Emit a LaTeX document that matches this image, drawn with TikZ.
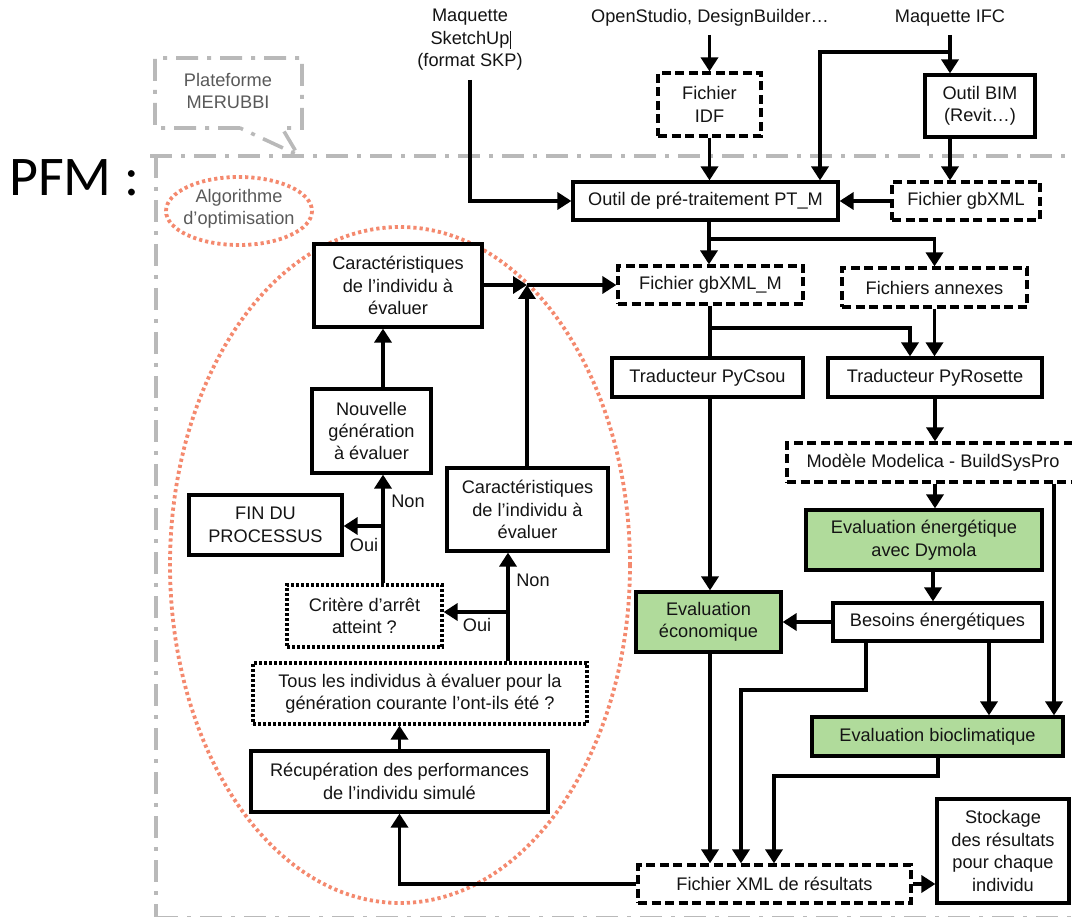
\documentclass[tikz,border=0pt]{standalone}
\usepackage{fontspec}
\setmainfont{Liberation Sans}
\newfontfamily\pfmfont{Carlito}
\usetikzlibrary{arrows.meta}
\definecolor{ink}{RGB}{20,20,20}
\definecolor{note}{RGB}{89,89,89}
\definecolor{frame}{RGB}{185,185,185}
\definecolor{salmon}{RGB}{244,137,110}
\definecolor{evalgreen}{RGB}{176,219,155}

\begin{document}
\begin{tikzpicture}[x=1pt,y=-1pt,
  txt/.style={font=\fontsize{18.2}{22.4}\selectfont, text=ink, align=center, inner sep=0pt},
  sz/.style n args={2}{minimum width=#1pt, minimum height=#2pt},
  box/.style={txt, draw=black, line width=3.2pt, fill=white, rectangle},
  dbox/.style={box, dash pattern=on 9pt off 4.5pt},
  obox/.style={box, line width=3.2pt, dash pattern=on 3pt off 2pt},
  gbox/.style={box, fill=evalgreen},
  link/.style={draw=black, line width=3.4pt, -{Triangle[width=17pt,length=14pt]}},
  wire/.style={draw=black, line width=3.4pt},
  border/.style={draw=frame, line width=3.6pt, dash pattern=on 22pt off 9pt on 4pt off 9pt},
  halo/.style={draw=salmon, line width=3.8pt, dash pattern=on 3.2pt off 3pt},
]
\useasboundingbox (0,0) rectangle (1072,917);
\clip (0,0) rectangle (1072,917);

% platform frame and its callout
\draw[border] (150,156) -- (1072,156);
\draw[border] (156,156) -- (156,917);
\draw[border, line width=1.5pt] (156,917) -- (1072,917);
\draw[border] (240,128) -- (155,128) -- (155,58) -- (302,58) -- (302,128)
  -- (282,128) -- (298,155) -- cycle;
\node[txt, text=note] (merubbi) at (228,91) {Plateforme\\MERUBBI};
\node[font=\pfmfont\fontsize{56}{56}\selectfont, text=black, anchor=base west,
  inner sep=0pt] (pfm) at (9,196) {PFM :};

% optimisation algorithm outline
\draw[halo] (239,211) ellipse [x radius=73, y radius=34];
\node[txt, text=note] (algo) at (239,209) {Algorithme\\d’optimisation};
\draw[halo] (400,565) ellipse [x radius=230, y radius=338];

% inputs
\node[txt] (skp) at (470,40) {Maquette\\SketchUp\\(format SKP)};
\draw[line width=0.8pt, ink] (510,31) -- (510,49);
\node[txt] (os) at (710,18) {OpenStudio, DesignBuilder…};
\node[txt] (ifc) at (950,18) {Maquette IFC};

% boxes
\node[dbox, sz={103}{63}] (idf) at (709.5,104.5) {Fichier\\IDF};
\node[box, sz={110}{62}] (bim) at (980,106) {Outil BIM\\(Revit…)};
\node[dbox, sz={148}{38}] (gbxml) at (966,201) {Fichier gbXML};
\node[box, sz={265}{38}] (ptm) at (705.5,201) {Outil de pré-traitement PT\_M};
\node[dbox, sz={185}{38}] (gbxmlm) at (710.5,285) {Fichier gbXML\_M};
\node[dbox, sz={185}{39}] (annexes) at (934.5,287.5) {Fichiers annexes};
\node[box, sz={191}{39}] (pycsou) at (707.5,377.5) {Traducteur PyCsou};
\node[box, sz={214}{39}] (pyros) at (935,377.5) {Traducteur PyRosette};
\node[dbox, sz={292}{39}] (modelica) at (933,462.5) {Modèle Modelica - BuildSysPro};
\node[gbox, sz={236}{60}] (energ) at (924,540) {Evaluation énergétique\\avec Dymola};
\node[box, sz={209}{38}] (besoins) at (937.5,622) {Besoins énergétiques};
\node[gbox, sz={145}{60}] (econ) at (708.5,622) {Evaluation\\économique};
\node[gbox, sz={251}{39}] (bioclim) at (937.5,736.5) {Evaluation bioclimatique};
\node[dbox, sz={273}{38}] (xml) at (774.5,884) {Fichier XML de résultats};
\node[box, sz={132}{104}] (stock) at (1003,851) {Stockage\\des résultats\\pour chaque\\individu};
\node[box, sz={168}{83}] (car1) at (398,285.5) {Caractéristiques\\de l’individu à\\évaluer};
\node[box, sz={119}{84}] (nouv) at (371.5,431) {Nouvelle\\génération\\à évaluer};
\node[box, sz={153}{60}] (fin) at (265.5,525) {FIN DU\\PROCESSUS};
\node[box, sz={161}{83}] (car2) at (527.5,509.5) {Caractéristiques\\de l’individu à\\évaluer};
\node[obox, sz={155}{62}] (crit) at (364.5,616) {Critère d’arrêt\\atteint ?};
\node[obox, sz={334}{61}] (tous) at (420,693.5) {Tous les individus à évaluer pour la\\génération courante l’ont-ils été ?};
\node[box, sz={297}{61}] (recup) at (399.5,781.5) {Récupération des performances\\de l’individu simulé};

% branch labels
\node[txt] (non1) at (408,501) {Non};
\node[txt] (oui1) at (364,545) {Oui};
\node[txt] (non2) at (533,580) {Non};
\node[txt] (oui2) at (477,625) {Oui};

% junction and bend points
\coordinate (skpfoot) at (470,80);
\coordinate (osfoot) at (709.5,35);
\coordinate (ifcfoot) at (950,35);
\coordinate (ifcsplit) at (950,52);
\coordinate (ptmin) at (820,0);
\coordinate (ptmsplit) at (709,239);
\coordinate (jn) at (527,285);
\coordinate (csou) at (710,328);
\coordinate (rosin) at (910,0);
\coordinate (mdl) at (935,0);
\coordinate (mdr) at (1054,0);
\coordinate (enb) at (933,0);
\coordinate (bxa) at (866,690);
\coordinate (bxb) at (741,690);
\coordinate (bbio) at (989,0);
\coordinate (bia) at (938,776);
\coordinate (bib) at (774,776);
\coordinate (tq) at (508,612);
\coordinate (cq) at (383,526);

% pre-processing chain
\draw[link] (skpfoot) |- (ptm.west);
\draw[link] (osfoot) -- (idf.north);
\draw[link] (idf.south) -- (idf.south |- ptm.north);
\draw[wire] (ifcfoot) -- (ifcsplit);
\draw[link] (ifcsplit) -- (ifcsplit |- bim.north);
\draw[link] (ifcsplit) -| (ptmin |- ptm.north);
\draw[link] (ifcsplit |- bim.south) -- (ifcsplit |- gbxml.north);
\draw[link] (gbxml.west) -- (ptm.east);
\draw[wire] (ptmsplit |- ptm.south) -- (ptmsplit);
\draw[link] (ptmsplit) -- (ptmsplit |- gbxmlm.north);
\draw[link] (ptmsplit) -| (annexes.north);

% individual to evaluate
\draw[link] (car1.east |- jn) -- (jn);
\draw[link] (jn |- car2.north) -- (jn);
\draw[link] (jn) -- (gbxmlm.west);

% translators and simulation
\draw[wire] (csou |- gbxmlm.south) -- (csou |- pycsou.north);
\draw[link] (csou) -| (rosin |- pyros.north);
\draw[link] (annexes.south) -- (annexes.south |- pyros.north);
\draw[link] (pyros.south) -- (pyros.south |- modelica.north);
\draw[link] (mdl |- modelica.south) -- (mdl |- energ.north);
\draw[link] (mdr |- modelica.south) -- (mdr |- bioclim.north);
\draw[link] (enb |- energ.south) -- (enb |- besoins.north);
\draw[link] (besoins.west) -- (econ.east);
\draw[link] (csou |- pycsou.south) -- (csou |- econ.north);
\draw[link] (csou |- econ.south) -- (csou |- xml.north);
\draw[link] (bxa |- besoins.south) -- (bxa) -- (bxb) -- (bxb |- xml.north);
\draw[link] (bbio |- besoins.south) -- (bbio |- bioclim.north);
\draw[link] (bia |- bioclim.south) -- (bia) -- (bib) -- (bib |- xml.north);
\draw[link] (xml.east) -- (stock.west |- xml.east);

% back into the optimisation loop
\draw[link] (xml.west) -| (recup.south);
\draw[link] (recup.north) -- (recup.north |- tous.south);
\draw[wire] (tq |- tous.north) -- (tq);
\draw[link] (tq) -- (tq -| crit.east);
\draw[link] (tq) -- (tq |- car2.south);
\draw[wire] (cq |- crit.north) -- (cq);
\draw[link] (cq) -- (cq -| fin.east);
\draw[link] (cq) -- (cq |- nouv.south);
\draw[link] (cq |- nouv.north) -- (cq |- car1.south);
\end{tikzpicture}
\end{document}
